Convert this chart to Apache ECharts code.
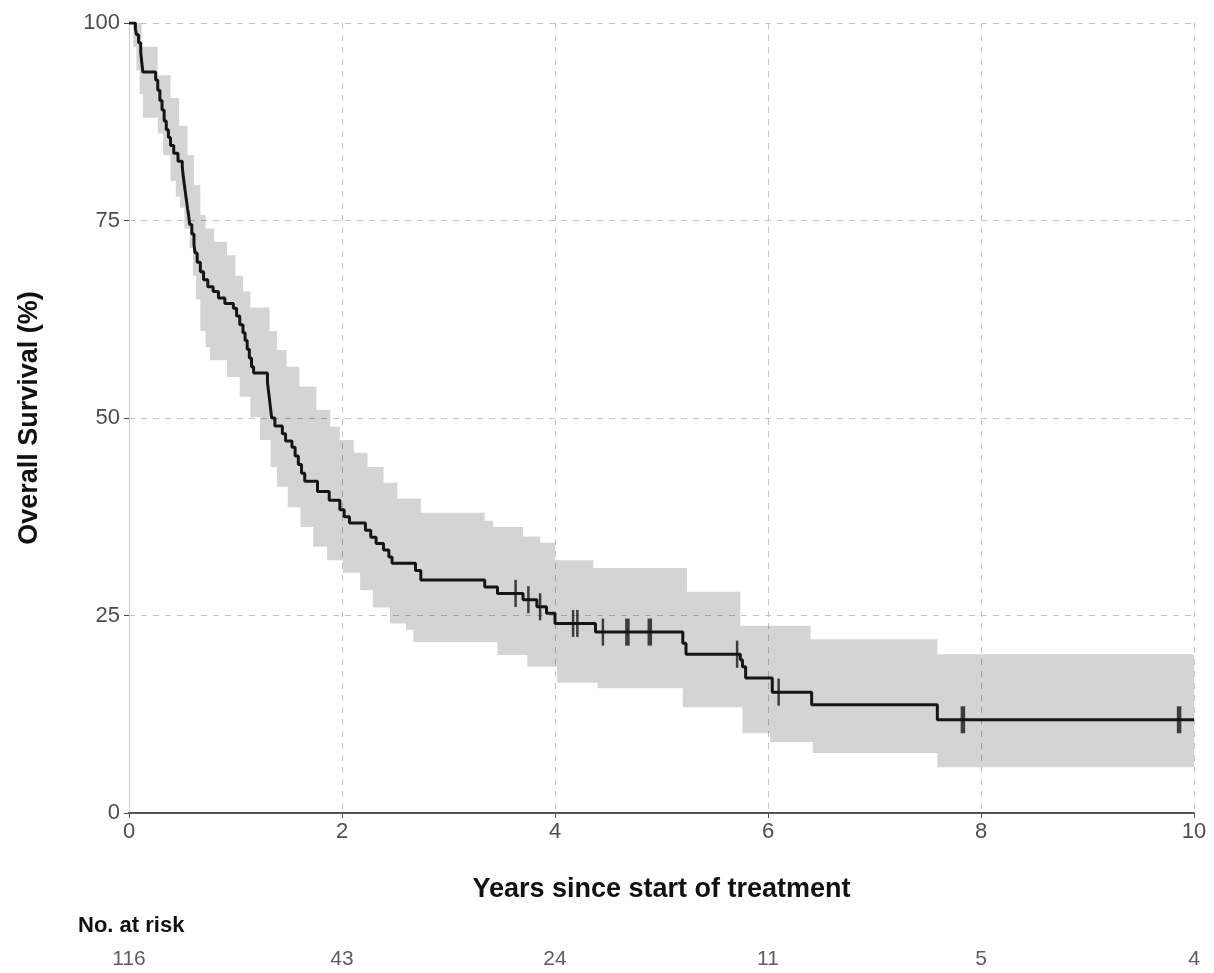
<!DOCTYPE html>
<html>
<head>
<meta charset="utf-8">
<script src="https://cdn.jsdelivr.net/npm/echarts@6/dist/echarts.min.js"></script>
<style>
  html, body { margin: 0; padding: 0; background: #fff; }
  #chart { width: 1214px; height: 973px; }
</style>
</head>
<body>
<div id="chart"></div>
<script>
// Kaplan-Meier estimate: [years, survival %] (value holds until next step)
var kmSteps = [
  [0, 100],
  [0.06, 99.3], [0.07, 98.5], [0.09, 97.5], [0.11, 96.3], [0.12, 95], [0.13, 93.8],
  [0.25, 92.8], [0.27, 91.5], [0.29, 90.2], [0.31, 89], [0.33, 87.6],
  [0.35, 86.5], [0.37, 85.5], [0.39, 84.5],
  [0.42, 83.5], [0.46, 82.5], [0.50, 81.8],
  [0.51, 80.5], [0.52, 79.5], [0.53, 78.5], [0.54, 77.5], [0.55, 76.5], [0.56, 75.6],
  [0.57, 74.5], [0.59, 73.3], [0.61, 72.0], [0.62, 70.9], [0.64, 69.7], [0.67, 68.5],
  [0.70, 67.5], [0.74, 66.6], [0.79, 66.0],
  [0.84, 65.2], [0.90, 64.5], [0.98, 63.9],
  [1.01, 62.9], [1.04, 61.8], [1.07, 60.8],
  [1.09, 59.8], [1.11, 58.7], [1.13, 57.6], [1.15, 56.5], [1.17, 55.7],
  [1.30, 54.5], [1.31, 53.4], [1.32, 52.3], [1.33, 51.1], [1.34, 50.0],
  [1.37, 49.0], [1.44, 48.0], [1.47, 47.1], [1.53, 46.3],
  [1.56, 45.2], [1.59, 44.1], [1.62, 43.0], [1.65, 42.0],
  [1.77, 40.7], [1.88, 39.6], [1.98, 38.4],
  [2.02, 37.5], [2.07, 36.7], [2.22, 35.8], [2.27, 34.9],
  [2.32, 34.1], [2.39, 33.3], [2.44, 32.4], [2.47, 31.6],
  [2.69, 30.7], [2.74, 29.5],
  [3.34, 28.6], [3.46, 27.8], [3.70, 27.0], [3.83, 26.1], [3.92, 25.3], [4.00, 24.0],
  [4.38, 22.9], [5.20, 21.5], [5.23, 20.1],
  [5.74, 19.4], [5.76, 18.5], [5.79, 17.1],
  [6.04, 15.3], [6.41, 13.7], [7.59, 11.8], [10, 11.8]
];

// confidence band edges (step functions)
var upperSteps = [
  [0, 100], [0.12, 97.0], [0.27, 93.4], [0.39, 90.5], [0.47, 87], [0.55, 83.3],
  [0.61, 79.5], [0.67, 75.7], [0.72, 74], [0.80, 72.3], [0.92, 70.6], [1.00, 68],
  [1.07, 66], [1.14, 64], [1.32, 61], [1.39, 58.6], [1.48, 56.5], [1.60, 54],
  [1.76, 51], [1.89, 48.9], [1.98, 47.2], [2.11, 45.6], [2.24, 43.8], [2.39, 41.8],
  [2.52, 39.8], [2.74, 38.0], [3.34, 37], [3.42, 36.2], [3.70, 35], [3.86, 34.2],
  [4.00, 32], [4.36, 31], [5.24, 28], [5.74, 23.7], [6.40, 22], [7.59, 20.1]
];
var lowerSteps = [
  [0, 100], [0.04, 97], [0.07, 94], [0.10, 91], [0.13, 88], [0.27, 86], [0.32, 83.3],
  [0.39, 80], [0.44, 78], [0.48, 76.6], [0.52, 74], [0.57, 71.5], [0.60, 68],
  [0.63, 65], [0.67, 61], [0.72, 59], [0.76, 57.3], [0.92, 55.2], [1.04, 52.7],
  [1.14, 50.1], [1.23, 47.2], [1.33, 43.8], [1.39, 41.3], [1.49, 38.7], [1.61, 36.2],
  [1.73, 33.7], [1.86, 32], [2.01, 30.4], [2.17, 28.2], [2.29, 26], [2.45, 24],
  [2.60, 23.2], [2.67, 21.6], [3.46, 20], [3.74, 18.5], [4.02, 16.5], [4.40, 15.8],
  [5.20, 13.4], [5.76, 10.1], [6.02, 9.0], [6.42, 7.6], [7.59, 5.8]
];

// censored observations
var censorMarks = [
  [3.63, 27.8], [3.75, 27.0], [3.86, 26.1], [4.17, 24.0], [4.21, 24.0],
  [4.45, 22.9], [5.71, 20.1], [6.10, 15.3]
];
var censorMarksHeavy = [
  [4.68, 22.9], [4.89, 22.9], [7.83, 11.8], [9.86, 11.8]
];

// number at risk table
var riskYears = [0, 2, 4, 6, 8, 10];
var riskCounts = [116, 43, 24, 11, 5, 4];

var xMax = 10;
var fontName = 'Liberation Sans';

var chart = echarts.init(document.getElementById('chart'));

var riskData = [];
for (var i = 0; i < riskYears.length; i++) {
  riskData.push([riskYears[i], 0.5, riskCounts[i]]);
}

function bandItem(params, api) {
  var pts = [];
  for (var i = 0; i < upperSteps.length; i++) {
    var next = i + 1 < upperSteps.length ? upperSteps[i + 1][0] : xMax;
    pts.push(api.coord([upperSteps[i][0], upperSteps[i][1]]));
    pts.push(api.coord([next, upperSteps[i][1]]));
  }
  for (var j = lowerSteps.length - 1; j >= 0; j--) {
    var next2 = j + 1 < lowerSteps.length ? lowerSteps[j + 1][0] : xMax;
    pts.push(api.coord([next2, lowerSteps[j][1]]));
    pts.push(api.coord([lowerSteps[j][0], lowerSteps[j][1]]));
  }
  return {
    type: 'polygon',
    shape: { points: pts },
    style: { fill: 'rgba(0,0,0,0.17)' }
  };
}

var option = {
  backgroundColor: '#fff',
  animation: false,
  textStyle: { fontFamily: fontName },
  grid: [
    { left: 129, right: 20, top: 23, bottom: 160 },
    { left: 129, right: 20, top: 945, height: 34 }
  ],
  xAxis: [
    {
      type: 'value',
      min: 0,
      max: 10,
      interval: 2,
      name: 'Years since start of treatment',
      nameLocation: 'middle',
      nameGap: 63,
      nameTextStyle: { fontSize: 27, fontWeight: 'bold', color: '#111', fontFamily: fontName },
      axisLine: { show: true, onZero: false, lineStyle: { color: '#555', width: 2 } },
      axisTick: { show: true, length: 5, lineStyle: { color: '#555' } },
      axisLabel: { fontSize: 22, color: '#4d4d4d', margin: 8, fontFamily: fontName },
      splitLine: { show: true, lineStyle: { color: '#c4c4c4', type: [6, 6], width: 1 } }
    },
    { type: 'value', gridIndex: 1, min: 0, max: 10, show: false }
  ],
  yAxis: [
    {
      type: 'value',
      min: 0,
      max: 100,
      interval: 25,
      name: 'Overall Survival (%)',
      nameLocation: 'middle',
      nameGap: 86,
      nameTextStyle: { fontSize: 27, fontWeight: 'bold', color: '#111', fontFamily: fontName },
      axisLine: { show: true, lineStyle: { color: '#d0d0d0', width: 1 } },
      axisTick: { show: true, length: 5, lineStyle: { color: '#444' } },
      axisLabel: { fontSize: 22, color: '#4d4d4d', margin: 9, fontFamily: fontName },
      splitLine: { show: true, lineStyle: { color: '#c4c4c4', type: [6, 6], width: 1 } }
    },
    { type: 'value', gridIndex: 1, min: 0, max: 1, show: false }
  ],
  graphic: [
    {
      type: 'text',
      left: 78,
      top: 915,
      style: { text: 'No. at risk', font: 'bold 22px "Liberation Sans"', fill: '#111' }
    }
  ],
  series: [
    {
      type: 'custom',
      name: 'ci',
      silent: true,
      z: 1,
      data: [[0, 0]],
      renderItem: bandItem
    },
    {
      type: 'line',
      name: 'survival',
      step: 'end',
      z: 3,
      showSymbol: false,
      data: kmSteps,
      lineStyle: { color: '#151515', width: 3 }
    },
    {
      type: 'scatter',
      name: 'censor',
      z: 4,
      symbol: 'rect',
      symbolSize: [2.5, 27],
      itemStyle: { color: '#151515' },
      data: censorMarks
    },
    {
      type: 'scatter',
      name: 'censor2',
      z: 4,
      symbol: 'rect',
      symbolSize: [4.5, 27],
      itemStyle: { color: '#151515' },
      data: censorMarksHeavy
    },
    {
      type: 'scatter',
      name: 'risk',
      xAxisIndex: 1,
      yAxisIndex: 1,
      symbolSize: 0,
      silent: true,
      data: riskData,
      label: {
        show: true,
        position: 'inside',
        formatter: function (p) { return p.value[2]; },
        fontSize: 21,
        color: '#333',
        fontFamily: fontName
      }
    }
  ]
};

chart.setOption(option);
</script>
</body>
</html>
